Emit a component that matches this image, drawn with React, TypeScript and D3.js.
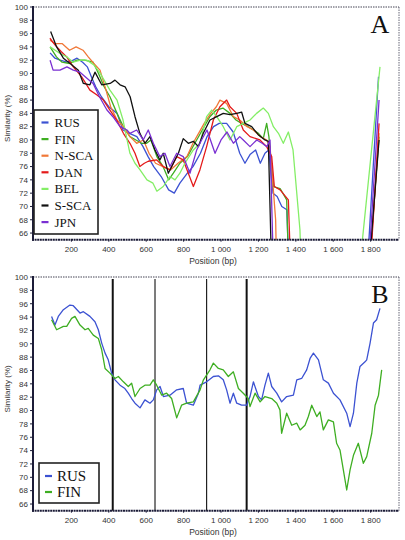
import React from "react";
import * as d3 from "d3";

type Pt = [number, number];

// ---------- Data ----------
const xTickValues = [200, 400, 600, 800, 1000, 1200, 1400, 1600, 1800];
const xTickLabels = ["200", "400", "600", "800", "1 000", "1 200", "1 400", "1 600", "1 800"];
const yTickValues = [66, 68, 70, 72, 74, 76, 78, 80, 82, 84, 86, 88, 90, 92, 94, 96, 98, 100];

const rusA: Pt[] = [[86,93.1],[112,92.3],[140,92],[176,91.7],[210,92],[230,92.3],[260,91.7],[285,91],[310,89.3],[330,88],[360,86.5],[400,85],[444,84],[476,81.5],[510,81],[550,80.5],[583,79],[610,77.5],[640,76],[680,74.5],[720,72.5],[750,72],[780,73.5],[820,75],[850,76],[890,78],[925,80.5],[960,82],[990,82.5],[1030,82.5],[1065,81.2],[1100,78],[1128,76.5],[1155,77.8],[1185,78.5],[1210,76.5],[1235,78],[1255,78.5],[1278,72],[1300,71.5],[1325,70],[1352,69.5],[1375,50],[1770,55],[1842,89.5]];
const finA: Pt[] = [[86,94],[120,92.5],[150,91.7],[190,91.5],[230,92],[270,92],[316,91.7],[345,90],[375,88],[406,86.5],[444,84],[478,82],[513,80.5],[545,80],[575,79.5],[602,79.5],[625,80],[657,77.5],[690,76],[720,74],[745,75],[780,76.5],[820,77.5],[860,79.5],[900,81.5],[940,83.5],[975,84.5],[1010,84.8],[1048,84],[1080,83],[1110,82.5],[1145,82],[1173,81.5],[1200,81],[1226,80.2],[1244,82.5],[1256,80.5],[1280,73],[1316,72.7],[1351,71],[1372,50],[1775,55],[1845,80.5]];
const nscaA: Pt[] = [[86,95],[112,94.5],[150,94.5],[190,93.5],[225,94],[262,93.5],[290,92.5],[320,91.5],[353,90.5],[385,87.5],[410,85],[444,83],[478,82],[513,80.5],[549,79.5],[585,80],[615,78],[650,76.5],[690,76],[730,75.5],[770,76.5],[818,77.5],[850,79.5],[880,81],[910,82.5],[945,84],[975,85],[994,86],[1030,85.5],[1066,83.5],[1100,83],[1140,82],[1173,81.5],[1210,80.5],[1244,80],[1262,79],[1292,68],[1305,50],[1780,55],[1845,81]];
const danA: Pt[] = [[85,95.3],[112,94.3],[145,93.3],[175,92.5],[210,91],[255,89.5],[299,87.5],[335,86.8],[371,86],[406,84.5],[442,83],[478,81],[513,79.5],[540,78],[566,76],[590,76.5],[611,76.8],[656,77],[691,76],[727,75.5],[763,77.5],[798,77],[825,75],[852,73],[887,75.5],[923,79],[959,83],[994,85],[1030,86],[1048,85],[1084,84],[1119,81.5],[1155,80.5],[1208,80],[1244,79],[1271,77.5],[1285,73],[1316,72.5],[1360,71],[1385,50],[1785,55],[1845,82.5]];
const belA: Pt[] = [[86,94],[139,93],[175,92.5],[209,91.7],[250,92],[283,92],[320,91.3],[350,90.2],[406,87.5],[444,86],[476,83],[513,78],[540,76.5],[567,75.5],[604,74],[636,73.5],[657,72.3],[691,73],[727,74.5],[754,74],[780,75],[807,76.5],[852,78.5],[887,79.5],[923,83.5],[950,84.5],[977,83.5],[1012,82],[1048,80],[1084,82],[1119,82.5],[1155,83],[1190,84],[1226,84.8],[1253,84],[1280,82],[1307,81],[1333,79.5],[1360,81.2],[1385,78.5],[1422,66.5],[1440,50],[1720,55],[1850,91]];
const sscaA: Pt[] = [[89,96.3],[121,94],[157,92.3],[193,91.5],[237,90.5],[264,88.5],[299,88.3],[326,90.2],[362,88.3],[407,88.5],[433,89],[460,88.3],[487,88],[514,86.5],[540,83.5],[566,81],[593,79.5],[620,80.5],[647,78.5],[673,77],[691,78],[718,75],[745,76.5],[772,78],[798,80.2],[825,79.5],[852,79.8],[879,79],[905,81],[941,83],[977,83.5],[1012,84],[1048,83.8],[1084,84],[1110,84.2],[1128,82.5],[1164,82],[1199,80.8],[1235,80],[1253,79.8],[1280,50],[1775,55],[1845,80]];
const jpnA: Pt[] = [[86,92],[102,90.5],[139,90.5],[176,91],[210,90.5],[246,90.2],[283,89.3],[316,88.5],[350,86.5],[390,84.5],[422,83.5],[460,82],[497,81.5],[513,81],[549,81.5],[584,80],[611,81.5],[638,79.5],[673,77.5],[700,78],[727,76],[763,78],[798,77.5],[834,75],[870,78.5],[896,80],[925,81.5],[968,78],[1000,80],[1032,81.2],[1066,79.5],[1100,80.5],[1119,80],[1155,79],[1191,80],[1220,79.5],[1245,79],[1262,80],[1290,50],[1775,55],[1845,86]];

const rusB: Pt[] = [[94,94.1],[112,92.8],[130,94.1],[157,95.1],[192,95.8],[210,95.7],[246,94.6],[264,94.8],[299,94.1],[326,93.3],[344,92.1],[362,90.1],[380,88.6],[397,87.6],[415,85.6],[433,84.6],[460,83.8],[486,83.3],[504,82.6],[522,81.8],[540,81.1],[567,80.4],[593,81.6],[620,81.1],[638,81.6],[656,83.1],[674,83.6],[692,82.1],[727,82.3],[763,83.1],[798,83.3],[816,81.1],[852,80.8],[879,82.6],[888,83.8],[923,84.3],[959,85.1],[986,85.2],[1012,84.6],[1030,83.1],[1048,81.1],[1066,82.6],[1084,81.1],[1110,80.8],[1137,80.8],[1155,82.1],[1173,84.3],[1200,82.1],[1217,81.6],[1235,83.8],[1253,85.6],[1271,83.6],[1298,82.6],[1324,81.3],[1351,82.1],[1387,82.3],[1405,84.6],[1431,84.8],[1458,86.1],[1476,87.8],[1494,88.6],[1521,87.6],[1547,84.6],[1574,84.1],[1601,82.6],[1636,81.6],[1672,79.6],[1690,77.6],[1708,79.6],[1726,84.1],[1743,86.6],[1770,87.3],[1779,87.6],[1797,90.1],[1815,93.1],[1832,93.6],[1850,95.3]];
const finB: Pt[] = [[94,93.6],[121,92.1],[157,92.6],[175,92.6],[201,93.8],[219,94.1],[246,92.8],[273,92.1],[290,92.3],[317,91.3],[344,90.8],[362,89.1],[380,86.3],[406,85.6],[433,84.8],[451,85.1],[478,84.3],[504,83.6],[522,84.1],[540,82.1],[567,83.3],[593,83.8],[620,83.8],[638,84.6],[656,83.8],[683,82.3],[709,82.6],[736,81.8],[763,78.9],[789,80.8],[816,81.1],[852,81.3],[888,83.1],[906,84.6],[941,86.1],[959,87.1],[986,86.3],[1012,86.1],[1039,85.1],[1066,85.8],[1093,83.3],[1119,82.6],[1146,81.8],[1155,80.6],[1182,82.6],[1209,81.3],[1235,82.1],[1271,81.8],[1298,81.1],[1315,80.1],[1324,76.6],[1351,79.6],[1378,77.8],[1405,78.1],[1423,77.1],[1449,77.8],[1467,79.1],[1485,80.8],[1512,79.1],[1529,79.8],[1547,77.1],[1574,78.6],[1601,78.3],[1618,75.1],[1636,74.1],[1654,71.1],[1672,68.1],[1690,71.1],[1708,73.3],[1734,75.1],[1761,72.1],[1779,73.1],[1806,76.6],[1824,80.8],[1842,82.3],[1859,86.1]];

const breakpointsB = [421, 647, 923, 1137];
const breakpointThick = [true, false, false, true];

const seriesNamesA = ["RUS", "FIN", "N-SCA", "DAN", "BEL", "S-SCA", "JPN"];
const seriesDataA = [rusA, finA, nscaA, danA, belA, sscaA, jpnA];
const seriesNamesB = ["RUS", "FIN"];
const seriesDataB = [rusB, finB];

const COLORS: Record<string, string> = {
  RUS: "#3c52d2",
  FIN: "#3eae22",
  "N-SCA": "#f07838",
  DAN: "#e41a1a",
  BEL: "#84ee66",
  "S-SCA": "#111111",
  JPN: "#7a30d2",
};

// ---------- Layout ----------
const W = 405;
const H = 540;
const X0 = 33;
const X1 = 399;
const x = d3.scaleLinear().domain([0, 1950]).range([34, 398.7]);

const SANS = "'Liberation Sans', Arial, sans-serif";
const SERIF = "'Liberation Serif', 'Times New Roman', serif";

interface LegendBox { x: number; y: number; w: number; h: number; first: number; step: number; font: number; markX: number; textX: number }

interface PanelProps {
  id: string;
  y: d3.ScaleLinear<number, number>;
  names: string[];
  data: Pt[][];
  letter: string;
  legend: LegendBox;
  breaks?: number[];
}

function Panel({ id, y, names, data, letter, legend, breaks }: PanelProps) {
  const top = y(100);
  const bottom = y(65);
  const line = d3
    .line<Pt>()
    .x((d) => x(d[0]))
    .y((d) => y(d[1]));
  const clipId = `clip-${id}`;
  return (
    <g>
      <defs>
        <clipPath id={clipId}>
          <rect x={X0} y={top} width={X1 - X0} height={bottom - top} />
        </clipPath>
      </defs>
      <line x1={X0} x2={X1} y1={top} y2={top} stroke="#445" strokeWidth={1} strokeDasharray="1.5,1" />
      <line x1={X1} x2={X1} y1={top} y2={bottom} stroke="#667" strokeWidth={1} strokeDasharray="1.5,1" />
      {breaks &&
        breaks.map((b, i) => (
          <line
            key={b}
            x1={x(b)}
            x2={x(b)}
            y1={top + 2}
            y2={bottom}
            stroke="#111"
            strokeWidth={breakpointThick[i] ? 2 : 1.1}
          />
        ))}
      <g clipPath={`url(#${clipId})`}>
        {data.map((s, i) => (
          <path
            key={names[i]}
            d={line(s) || ""}
            fill="none"
            stroke={COLORS[names[i]]}
            strokeWidth={1.3}
            strokeLinejoin="round"
          />
        ))}
      </g>
      <line x1={X0} x2={X0} y1={top - 1} y2={bottom + 1} stroke="#1c1c38" strokeWidth={2} />
      <line x1={X0 - 1} x2={X1} y1={bottom} y2={bottom} stroke="#1c1c38" strokeWidth={2} strokeDasharray="2,0.6" />
      {yTickValues.map((v) => (
        <g key={v}>
          <line x1={X0 - 3} x2={X0} y1={y(v)} y2={y(v)} stroke="#1c1c38" strokeWidth={1} />
          <text x={28} y={y(v)} dy="0.35em" fontSize={8} fontFamily={SANS} fill="#333" textAnchor="end">
            {v}
          </text>
        </g>
      ))}
      {xTickValues.map((v, i) => (
        <g key={v}>
          <line x1={x(v)} x2={x(v)} y1={bottom} y2={bottom + 2} stroke="#1c1c38" strokeWidth={1} />
          <text x={x(v)} y={bottom + 12} fontSize={8} fontFamily={SANS} fill="#333" textAnchor="middle">
            {xTickLabels[i]}
          </text>
        </g>
      ))}
      <text x={213} y={bottom + 24.5} fontSize={8.5} fontFamily={SANS} fill="#333" textAnchor="middle">
        Position (bp)
      </text>
      <text
        transform={`translate(10, ${(top + bottom) / 2 - 5}) rotate(-90)`}
        fontSize={8}
        fontFamily={SANS}
        fill="#333"
        textAnchor="middle"
      >
        Similarity (%)
      </text>
      <text x={380} y={top + 26} fontSize={26} fontFamily={SERIF} fill="#111" textAnchor="middle">
        {letter}
      </text>
      <rect
        x={legend.x}
        y={legend.y}
        width={legend.w}
        height={legend.h}
        fill="white"
        stroke="#222"
        strokeWidth={1.6}
      />
      {names.map((n, i) => {
        const cy = legend.y + legend.first + i * legend.step;
        return (
          <g key={n}>
            <line
              x1={legend.markX}
              x2={legend.markX + 7}
              y1={cy}
              y2={cy}
              stroke={COLORS[n]}
              strokeWidth={2.2}
            />
            <text
              x={legend.textX}
              y={cy}
              dy="0.35em"
              fontSize={legend.font}
              fontFamily={SERIF}
              fill="#111"
            >
              {n}
            </text>
          </g>
        );
      })}
    </g>
  );
}

const yA = d3.scaleLinear().domain([65, 100]).range([239.7, 7]);
const yB = d3.scaleLinear().domain([65, 100]).range([510.7, 277]);

export default function App() {
  return (
    <svg
      width={W}
      height={H}
      style={{ position: "absolute", left: 0, top: 0, background: "white" }}
    >
      <rect x={0} y={0} width={W} height={H} fill="white" />
      <Panel
        id="a"
        y={yA}
        names={seriesNamesA}
        data={seriesDataA}
        letter="A"
        legend={{ x: 34, y: 110, w: 64, h: 124, first: 12.5, step: 16.6, font: 13, markX: 41.5, textX: 54.5 }}
      />
      <Panel
        id="b"
        y={yB}
        names={seriesNamesB}
        data={seriesDataB}
        letter="B"
        legend={{ x: 39, y: 463, w: 60, h: 40, first: 13, step: 16, font: 15, markX: 45, textX: 57 }}
        breaks={breakpointsB}
      />
    </svg>
  );
}
